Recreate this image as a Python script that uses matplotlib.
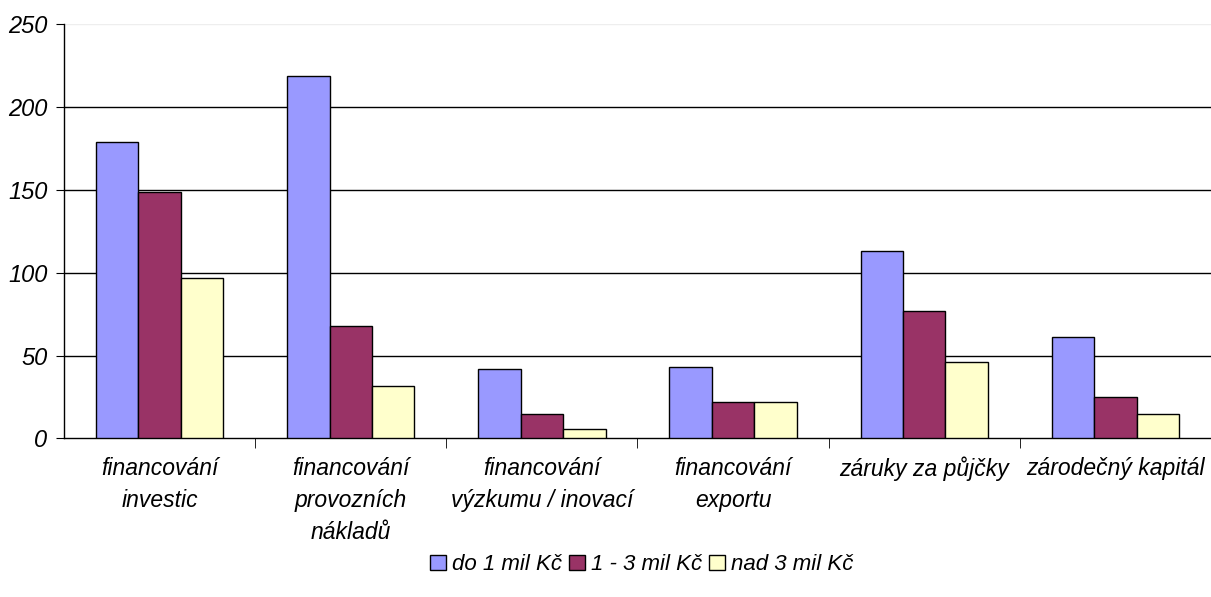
import numpy as np
import matplotlib.pyplot as plt
from matplotlib.patches import Patch

plt.rcParams['font.family'] = ['Liberation Sans', 'DejaVu Sans']
plt.rcParams['font.style'] = 'italic'

categories = ["financování\ninvestic", "financování\nprovozních\nnákladů",
              "financování\nvýzkumu / inovací", "financování\nexportu",
              "záruky za půjčky", "zárodečný kapitál"]
series_names = ["do 1 mil Kč", "1 - 3 mil Kč", "nad 3 mil Kč"]
do_1 = [179, 219, 42, 43, 113, 61]
od_1_do_3 = [149, 68, 15, 22, 77, 25]
nad_3 = [97, 32, 6, 22, 46, 15]
colors = ["#9999ff", "#993366", "#ffffcc"]

fig = plt.figure(figsize=(12.11, 5.97), dpi=100)
ax = fig.add_axes([0.0529, 0.2655, 0.947, 0.6935])

x = np.arange(len(categories))
w = 0.222
for i, (vals, c) in enumerate(zip([do_1, od_1_do_3, nad_3], colors)):
    ax.bar(x + (i - 1) * w, vals, w, color=c, edgecolor="black", linewidth=1, zorder=3)

ax.set_xlim(-0.5, len(categories) - 0.5)
ax.set_ylim(0, 250)
ax.set_yticks(range(0, 251, 50))
for v in range(50, 250, 50):
    ax.axhline(v, color="black", linewidth=1, zorder=0)
ax.axhline(250, color="#eeeeee", linewidth=1, zorder=0)
ax.tick_params(axis="y", labelsize=17, length=6, direction="out", pad=6)

ax.set_xticks(x)
ax.set_xticklabels(categories, fontsize=16.5, va="top", linespacing=1.5)
ax.tick_params(axis="x", length=0, pad=13)
ax.set_xticks(np.arange(0.5, len(categories) - 0.5, 1), minor=True)
ax.tick_params(axis="x", which="minor", length=7, direction="out")

for s in ["top", "right"]:
    ax.spines[s].set_visible(False)
ax.spines["left"].set_linewidth(1)
ax.spines["bottom"].set_linewidth(1)

handles = [Patch(facecolor=c, edgecolor="black", label=n) for c, n in zip(colors, series_names)]
fig.legend(handles=handles, loc="center", bbox_to_anchor=(0.53, 0.054), ncol=3,
           frameon=False, fontsize=16, handlelength=0.7, handleheight=0.7,
           handletextpad=0.3, columnspacing=0.3)

fig.savefig("out.png", dpi=100)
